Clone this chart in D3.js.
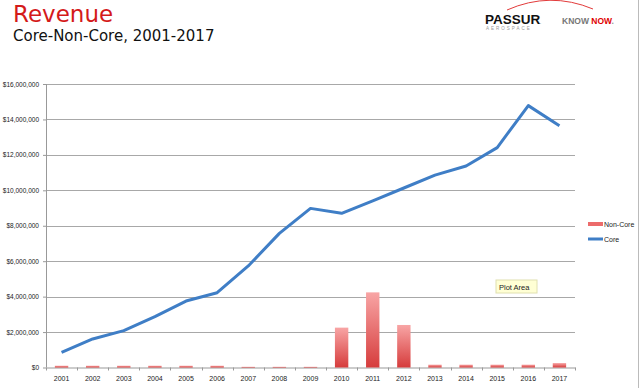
<!DOCTYPE html>
<html>
<head>
<meta charset="utf-8">
<script src="https://cdn.jsdelivr.net/npm/d3@7"></script>
<style>
  body { margin: 0; background: #fff; }
  svg { display: block; font-family: "Liberation Sans", Arial, sans-serif; }
</style>
</head>
<body>
<div id="chart"></div>
<script>
// data
var years = ['2001','2002','2003','2004','2005','2006','2007','2008','2009',
             '2010','2011','2012','2013','2014','2015','2016','2017'];
var coreRevenue = [860000, 1610000, 2080000, 2870000, 3750000, 4220000, 5730000, 7570000, 8980000,
                   8700000, 9410000, 10130000, 10860000, 11370000, 12410000, 14780000, 13650000];
var nonCoreRevenue = [100000, 100000, 100000, 100000, 100000, 100000, 40000, 40000, 40000,
                      2250000, 4240000, 2400000, 160000, 160000, 160000, 160000, 250000];
var yTicks = [0, 2000000, 4000000, 6000000, 8000000, 10000000, 12000000, 14000000, 16000000];
var legendItems = ['Non-Core', 'Core'];

var W = 640, H = 388;
var margin = {top: 84, right: 65, bottom: 20.5, left: 46};
var width = W - margin.left - margin.right;
var height = H - margin.top - margin.bottom;

var fmt = d3.format(',.0f');

var svg = d3.select('#chart').append('svg')
  .attr('width', W)
  .attr('height', H);

// gradient for the bars
var defs = svg.append('defs');
var grad = defs.append('linearGradient')
  .attr('id', 'barGrad')
  .attr('x1', 0).attr('y1', 0).attr('x2', 0).attr('y2', 1);
grad.append('stop').attr('offset', '0%').attr('stop-color', '#f8a5a5');
grad.append('stop').attr('offset', '100%').attr('stop-color', '#d63c3c');

// right frame line
svg.append('line')
  .attr('x1', 638.5).attr('x2', 638.5).attr('y1', 0).attr('y2', H)
  .attr('stroke', '#bbb');

// titles
svg.append('text')
  .attr('x', 13).attr('y', 22)
  .attr('fill', '#d41a1a')
  .style('font-family', '"DejaVu Sans", sans-serif')
  .style('font-size', '23px')
  .text('Revenue');
svg.append('text')
  .attr('x', 13).attr('y', 41)
  .attr('fill', '#111')
  .style('font-family', '"DejaVu Sans", sans-serif')
  .style('font-size', '15px')
  .text('Core-Non-Core, 2001-2017');

// logo
var logo = svg.append('g');
logo.append('path')
  .attr('d', 'M507,10 Q550,-9 593,9')
  .attr('fill', 'none')
  .attr('stroke', '#e23a3a')
  .attr('stroke-width', 1);
logo.append('text')
  .attr('x', 485).attr('y', 24)
  .style('font-weight', 'bold')
  .style('font-size', '13.5px')
  .attr('fill', '#111')
  .text('PASSUR');
logo.append('text')
  .attr('x', 540).attr('y', 24)
  .style('font-size', '4px')
  .attr('fill', '#111')
  .text('.');
logo.append('text')
  .attr('x', 486).attr('y', 30)
  .style('font-size', '4.5px')
  .style('letter-spacing', '2px')
  .attr('fill', '#999')
  .text('AEROSPACE');
var kn = logo.append('text')
  .attr('x', 562).attr('y', 24)
  .style('font-weight', 'bold')
  .style('font-size', '8.5px');
kn.append('tspan').attr('fill', '#777').text('KNOW ');
kn.append('tspan').attr('fill', '#e00000').text('NOW');
kn.append('tspan').attr('fill', '#999').text('.');

var g = svg.append('g')
  .attr('transform', 'translate(' + margin.left + ',' + margin.top + ')');

var x = d3.scaleBand()
  .domain(years)
  .range([0, width]);

var y = d3.scaleLinear()
  .domain([0, 16000000])
  .range([height, 0]);

// gridlines
g.append('g').selectAll('line')
  .data(yTicks.slice(1))
  .enter().append('line')
    .attr('x1', 0).attr('x2', width)
    .attr('y1', d => Math.round(y(d)) + 0.5)
    .attr('y2', d => Math.round(y(d)) + 0.5)
    .attr('stroke', '#a8a8a8')
    .attr('stroke-width', 1.2);

// y axis
var yAxis = g.append('g')
  .call(d3.axisLeft(y).tickValues(yTicks).tickSize(3).tickPadding(4)
    .tickFormat(d => '$' + fmt(d)));
yAxis.select('.domain').attr('stroke', '#999').attr('d', 'M0.5,0V' + height);
yAxis.selectAll('.tick line').attr('stroke', '#999');
yAxis.selectAll('text')
  .style('font-size', '6.5px')
  .attr('fill', '#222')
  .style('font-family', '"Liberation Sans", sans-serif');

// x axis
var xAxis = g.append('g')
  .attr('transform', 'translate(0,' + height + ')')
  .call(d3.axisBottom(x).tickSize(0).tickPadding(9));
xAxis.select('.domain').attr('stroke', '#999');
xAxis.selectAll('text')
  .style('font-size', '7px')
  .attr('fill', '#222');
// category separators below the axis
xAxis.append('g').selectAll('line')
  .data(years.concat(['end']))
  .enter().append('line')
    .attr('x1', (d, i) => Math.round(i * x.bandwidth()) + 0.5)
    .attr('x2', (d, i) => Math.round(i * x.bandwidth()) + 0.5)
    .attr('y1', 0).attr('y2', 3)
    .attr('stroke', '#999');

// non-core bars
var barW = x.bandwidth() * 0.43;
g.append('g').selectAll('rect')
  .data(nonCoreRevenue)
  .enter().append('rect')
    .attr('x', (d, i) => x(years[i]) + (x.bandwidth() - barW) / 2)
    .attr('y', d => y(d))
    .attr('width', barW)
    .attr('height', d => height - y(d))
    .attr('fill', 'url(#barGrad)');

// core line
var line = d3.line()
  .x((d, i) => x(years[i]) + x.bandwidth() / 2)
  .y(d => y(d));
g.append('path')
  .datum(coreRevenue)
  .attr('d', line)
  .attr('fill', 'none')
  .attr('stroke', '#3f7ec6')
  .attr('stroke-width', 3)
  .attr('stroke-linejoin', 'round');

// legend
var legend = svg.append('g').attr('transform', 'translate(588,224)');
legendItems.forEach(function(name, i) {
  var row = legend.append('g').attr('transform', 'translate(0,' + (i * 15) + ')');
  if (name === 'Non-Core') {
    row.append('rect')
      .attr('x', 0).attr('y', -2).attr('width', 15).attr('height', 4)
      .attr('fill', '#ec6b6b');
  } else {
    row.append('line')
      .attr('x1', 0).attr('x2', 15).attr('y1', 0).attr('y2', 0)
      .attr('stroke', '#3f7ec6').attr('stroke-width', 3);
  }
  row.append('text')
    .attr('x', 16).attr('y', 2.5)
    .style('font-size', '7px')
    .attr('fill', '#222')
    .text(name);
});

// "Plot Area" hover tag seen on the slide
var tip = svg.append('g').attr('transform', 'translate(496,280)');
tip.append('rect')
  .attr('width', 41).attr('height', 13)
  .attr('fill', '#ffffd4')
  .attr('stroke', '#e0e0b0');
tip.append('text')
  .attr('x', 3).attr('y', 9.5)
  .style('font-size', '7.5px')
  .attr('fill', '#222')
  .text('Plot Area');
</script>
</body>
</html>
